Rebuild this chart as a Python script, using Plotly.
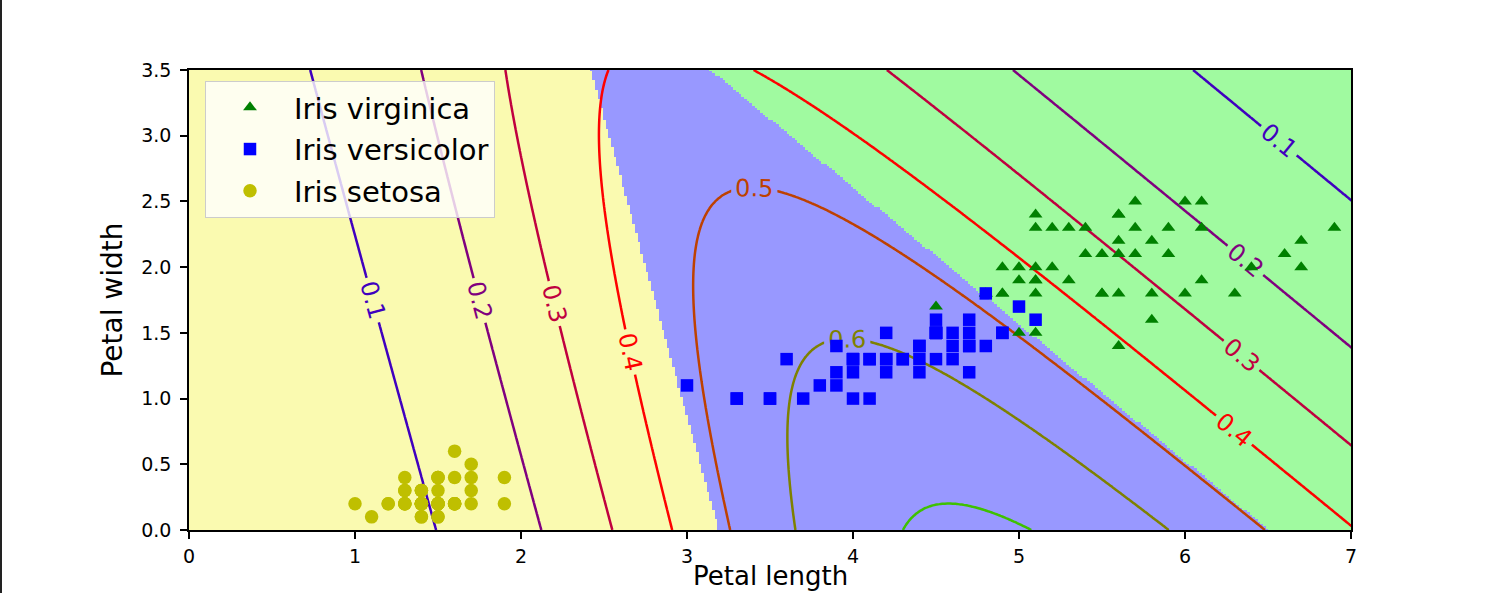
import numpy as np
import plotly.graph_objects as go

# ---------------- data (iris petal measurements) ----------------
setosa_length = [1.4, 1.4, 1.3, 1.5, 1.4, 1.7, 1.4, 1.5, 1.4, 1.5, 1.5, 1.6, 1.4, 1.1, 1.2, 1.5, 1.3, 1.4, 1.7, 1.5,
                 1.7, 1.5, 1.0, 1.7, 1.9, 1.6, 1.6, 1.5, 1.4, 1.6, 1.6, 1.5, 1.5, 1.4, 1.5, 1.2, 1.3, 1.4, 1.3, 1.5,
                 1.3, 1.3, 1.3, 1.6, 1.9, 1.4, 1.6, 1.4, 1.5, 1.4]
setosa_width = [0.2, 0.2, 0.2, 0.2, 0.2, 0.4, 0.3, 0.2, 0.2, 0.1, 0.2, 0.2, 0.1, 0.1, 0.2, 0.4, 0.4, 0.3, 0.3, 0.3,
                0.2, 0.4, 0.2, 0.5, 0.2, 0.2, 0.4, 0.2, 0.2, 0.2, 0.2, 0.4, 0.1, 0.2, 0.2, 0.2, 0.2, 0.1, 0.2, 0.2,
                0.3, 0.3, 0.2, 0.6, 0.4, 0.3, 0.2, 0.2, 0.2, 0.2]
versicolor_length = [4.7, 4.5, 4.9, 4.0, 4.6, 4.5, 4.7, 3.3, 4.6, 3.9, 3.5, 4.2, 4.0, 4.7, 3.6, 4.4, 4.5, 4.1, 4.5, 3.9,
                     4.8, 4.0, 4.9, 4.7, 4.3, 4.4, 4.8, 5.0, 4.5, 3.5, 3.8, 3.7, 3.9, 5.1, 4.5, 4.5, 4.7, 4.4, 4.1, 4.0,
                     4.4, 4.6, 4.0, 3.3, 4.2, 4.2, 4.2, 4.3, 3.0, 4.1]
versicolor_width = [1.4, 1.5, 1.5, 1.3, 1.5, 1.3, 1.6, 1.0, 1.3, 1.4, 1.0, 1.5, 1.0, 1.4, 1.3, 1.4, 1.5, 1.0, 1.5, 1.1,
                    1.8, 1.3, 1.5, 1.2, 1.3, 1.4, 1.4, 1.7, 1.5, 1.0, 1.1, 1.0, 1.2, 1.6, 1.5, 1.6, 1.5, 1.3, 1.3, 1.3,
                    1.2, 1.4, 1.2, 1.0, 1.3, 1.2, 1.3, 1.3, 1.1, 1.3]
virginica_length = [6.0, 5.1, 5.9, 5.6, 5.8, 6.6, 4.5, 6.3, 5.8, 6.1, 5.1, 5.3, 5.5, 5.0, 5.1, 5.3, 5.5, 6.7, 6.9, 5.0,
                    5.7, 4.9, 6.7, 4.9, 5.7, 6.0, 4.8, 4.9, 5.6, 5.8, 6.1, 6.4, 5.6, 5.1, 5.6, 6.1, 5.6, 5.5, 4.8, 5.4,
                    5.6, 5.1, 5.1, 5.9, 5.7, 5.2, 5.0, 5.2, 5.4, 5.1]
virginica_width = [2.5, 1.9, 2.1, 1.8, 2.2, 2.1, 1.7, 1.8, 1.8, 2.5, 2.0, 1.9, 2.1, 2.0, 2.4, 2.3, 1.8, 2.2, 2.3, 1.5,
                   2.3, 2.0, 2.0, 1.8, 2.1, 1.8, 1.8, 1.8, 2.1, 1.6, 1.9, 2.0, 2.2, 1.5, 1.4, 2.3, 2.4, 1.8, 1.8, 2.1,
                   2.4, 2.3, 1.9, 2.3, 2.5, 2.3, 1.9, 2.0, 2.3, 1.8]

# softmax model (classes: setosa, versicolor, virginica)
coef_length = [-1.29, 0.0, 0.755]
coef_width = [-0.284, 0.0, 0.725]
intercepts = [4.115, 0.0, -4.908]

contour_levels = [0.1, 0.2, 0.3, 0.4, 0.5, 0.6, 0.7]
level_colors = ["rgb(64,0,191)", "rgb(128,0,127)", "rgb(192,0,63)", "rgb(254,1,0)",
                "rgb(190,65,0)", "rgb(126,129,0)", "rgb(62,193,0)"]
region_colors = ["#fafab0", "#9898ff", "#a0faa0"]

x_ticks = [0, 1, 2, 3, 4, 5, 6, 7]
y_ticks = [0.0, 0.5, 1.0, 1.5, 2.0, 2.5, 3.0, 3.5]

# ---------------- model evaluation on a grid ----------------
xs = np.linspace(0, 8, 500)
ys = np.linspace(0, 3.5, 200)
X0, X1 = np.meshgrid(xs, ys)
logits = np.stack([coef_length[k] * X0 + coef_width[k] * X1 + intercepts[k] for k in range(3)])
logits -= logits.max(axis=0, keepdims=True)
proba = np.exp(logits)
proba /= proba.sum(axis=0, keepdims=True)
pred = proba.argmax(axis=0)
p_versicolor = proba[1]

fig = go.Figure()

fig.add_trace(go.Heatmap(
    x=xs, y=ys, z=pred, zmin=-0.5, zmax=2.5, zsmooth=False,
    colorscale=[[0, region_colors[0]], [1/3, region_colors[0]], [1/3, region_colors[1]],
                [2/3, region_colors[1]], [2/3, region_colors[2]], [1, region_colors[2]]],
    showscale=False, hoverinfo="skip", showlegend=False))

for lev, col in zip(contour_levels, level_colors):
    fig.add_trace(go.Contour(
        x=xs, y=ys, z=p_versicolor, autocontour=False,
        contours=dict(start=lev, end=lev, size=0.1, coloring="lines", showlabels=True,
                      labelfont=dict(size=24, color=col, family="DejaVu Sans")),
        colorscale=[[0, col], [1, col]], showscale=False,
        line=dict(width=2.5, smoothing=1), hoverinfo="skip", showlegend=False))

fig.add_trace(go.Scatter(x=virginica_length, y=virginica_width, mode="markers", name="Iris virginica",
                         marker=dict(symbol="triangle-up", size=12, color="#008000"),
                         legendgroup="a"))
fig.add_trace(go.Scatter(x=versicolor_length, y=versicolor_width, mode="markers", name="Iris versicolor",
                         marker=dict(symbol="square", size=12.5, color="#0000ff"),
                         legendgroup="b"))
fig.add_trace(go.Scatter(x=setosa_length, y=setosa_width, mode="markers", name="Iris setosa",
                         marker=dict(symbol="circle", size=13.5, color="#bfbf00"),
                         legendgroup="c"))

W, H = 1499, 593
L, R, T, B = 189, 148, 70, 63
pw, ph = W - L - R, H - T - B

fig.update_layout(
    width=W, height=H, margin=dict(l=L, r=R, t=T, b=B, pad=0, autoexpand=False),
    paper_bgcolor="white", plot_bgcolor="white",
    font=dict(family="DejaVu Sans", color="black", size=19),
    xaxis=dict(range=[0, 7], tickvals=x_ticks, ticks="outside", ticklen=7, tickwidth=1.5,
               tickcolor="black", showline=True, linecolor="black", linewidth=1.5, mirror=True,
               showgrid=False, zeroline=False, tickfont=dict(size=19), automargin=False,
               ticklabelstandoff=1),
    yaxis=dict(range=[0, 3.5], tickvals=y_ticks, tickformat=".1f", ticks="outside", ticklen=7,
               tickwidth=1.5, tickcolor="black", showline=True, linecolor="black", linewidth=1.5,
               mirror=True, showgrid=False, zeroline=False, tickfont=dict(size=19), automargin=False,
               ticklabelstandoff=5,
               title=dict(text="Petal width", font=dict(size=28), standoff=10)),
    legend=dict(x=(205 - L) / pw, y=1 - (81 - T) / ph, xanchor="left", yanchor="top",
                bgcolor="rgba(255,255,255,0.8)", bordercolor="#cccccc", borderwidth=1,
                font=dict(size=29), itemwidth=78, traceorder="grouped", tracegroupgap=1),
    annotations=[dict(text="Petal length", xref="paper", yref="paper", x=0.5, y=-(592 - 530) / ph,
                      xanchor="center", yanchor="bottom", showarrow=False, font=dict(size=26),
                      borderpad=0)],
    shapes=[dict(type="line", xref="paper", yref="paper", x0=(1 - L) / pw, x1=(1 - L) / pw,
                 y0=-B / ph, y1=1 + T / ph, line=dict(color="#222222", width=2))],
)

fig.write_html("out.html")
